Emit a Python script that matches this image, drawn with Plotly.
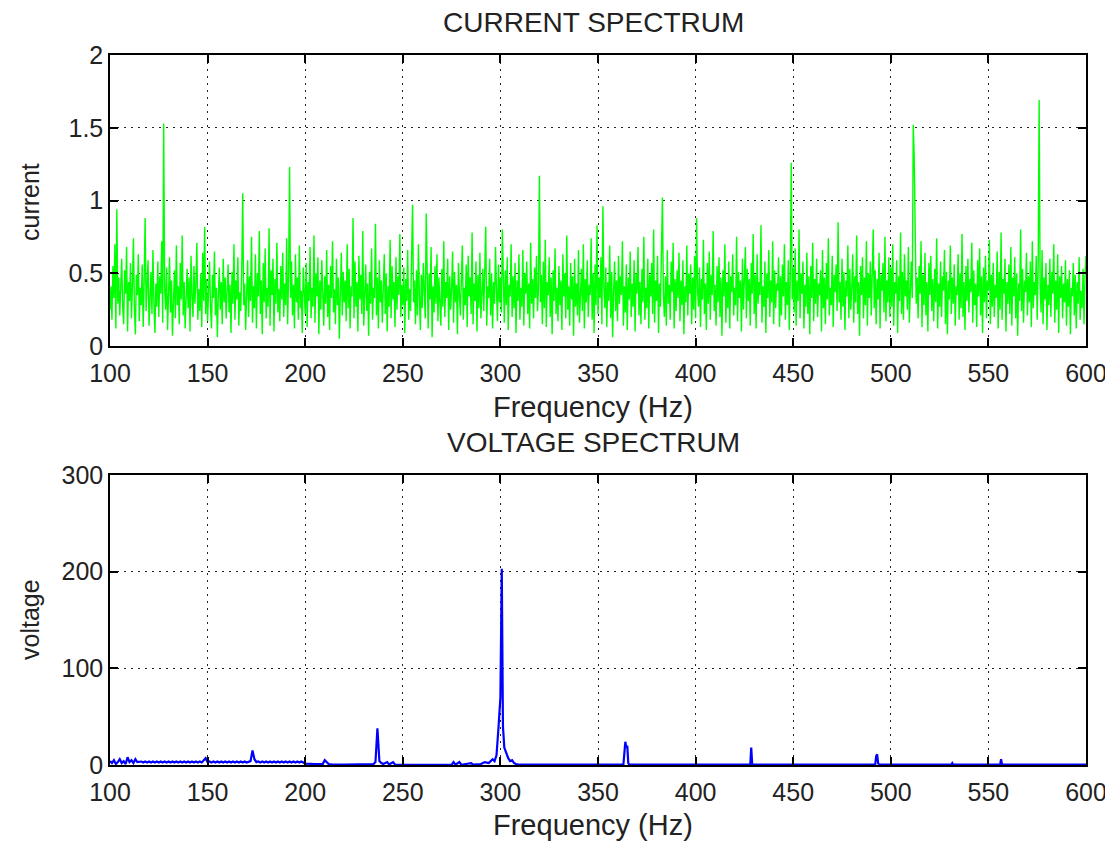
import plotly.graph_objects as go

# ---------------- data ----------------
current_freq_start = 100.0   # Hz
current_freq_step = 0.5      # Hz per bin
current_vals = [
    0.25,0.41,0.18,0.55,0.33,0.70,0.12,0.94,0.29,0.47,0.21,0.38,0.60,0.27,0.15,0.52,0.36,0.68,0.10,0.44,
    0.31,0.57,0.19,0.42,0.74,0.26,0.08,0.49,0.35,0.63,0.17,0.40,0.28,0.56,0.13,0.45,0.88,0.24,0.37,0.59,
    0.14,0.33,0.51,0.22,0.66,0.30,0.09,0.43,0.27,0.58,0.20,0.48,0.36,0.72,0.16,1.53,0.39,0.25,0.54,0.11,
    0.34,0.61,0.23,0.45,0.07,0.38,0.52,0.19,0.69,0.28,0.41,0.15,0.57,0.32,0.76,0.21,0.44,0.12,0.36,0.53,
    0.26,0.47,0.10,0.62,0.35,0.20,0.55,0.29,0.43,0.71,0.18,0.39,0.24,0.50,0.13,0.64,0.31,0.82,0.22,0.46,
    0.17,0.37,0.58,0.27,0.12,0.49,0.33,0.65,0.21,0.40,0.06,0.35,0.54,0.25,0.44,0.15,0.60,0.30,0.47,0.19,
    0.38,0.56,0.23,0.42,0.09,0.51,0.29,0.70,0.18,0.45,0.32,0.61,0.14,0.37,0.24,0.53,1.05,0.28,0.43,0.11,
    0.36,0.59,0.20,0.48,0.31,0.75,0.16,0.41,0.26,0.63,0.12,0.50,0.34,0.79,0.22,0.45,0.08,0.57,0.30,0.67,
    0.19,0.40,0.27,0.81,0.14,0.52,0.35,0.60,0.10,0.46,0.29,0.71,0.23,0.39,0.17,0.55,0.32,0.64,0.20,0.43,
    0.28,0.74,0.15,0.49,1.23,0.33,0.58,0.21,0.42,0.12,0.63,0.30,0.47,0.18,0.69,0.26,0.38,0.09,0.54,0.35,
    0.22,0.57,0.13,0.44,0.31,0.68,0.19,0.40,0.27,0.76,0.16,0.50,0.34,0.61,0.08,0.45,0.25,0.59,0.37,0.14,
    0.48,0.29,0.66,0.20,0.42,0.11,0.55,0.33,0.72,0.23,0.39,0.15,0.60,0.28,0.47,0.05,0.36,0.64,0.21,0.51,
    0.30,0.45,0.17,0.70,0.26,0.53,0.12,0.41,0.34,0.88,0.19,0.58,0.27,0.44,0.10,0.62,0.32,0.49,0.22,0.79,
    0.14,0.38,0.56,0.24,0.43,0.07,0.51,0.29,0.67,0.18,0.40,0.33,0.84,0.21,0.47,0.12,0.59,0.30,0.45,0.16,
    0.36,0.63,0.22,0.50,0.10,0.41,0.27,0.73,0.19,0.55,0.32,0.44,0.13,0.61,0.25,0.48,0.35,0.77,0.20,0.42,
    0.28,0.54,0.09,0.46,0.31,0.66,0.18,0.39,0.24,0.59,0.97,0.30,0.45,0.15,0.52,0.21,0.70,0.34,0.11,0.49,
    0.26,0.57,0.37,0.19,0.91,0.43,0.12,0.50,0.32,0.68,0.06,0.41,0.23,0.55,0.29,0.63,0.17,0.47,0.35,0.14,
    0.53,0.27,0.72,0.20,0.44,0.33,0.60,0.11,0.48,0.25,0.39,0.65,0.16,0.51,0.30,0.42,0.08,0.57,0.36,0.21,
    0.46,0.69,0.18,0.40,0.28,0.56,0.13,0.62,0.34,0.47,0.22,0.78,0.15,0.43,0.31,0.58,0.10,0.49,0.26,0.64,
    0.19,0.37,0.53,0.24,0.45,0.82,0.14,0.41,0.33,0.60,0.21,0.50,0.12,0.44,0.29,0.68,0.38,0.17,0.56,0.30,
    0.47,0.23,0.80,0.35,0.16,0.52,0.28,0.61,0.11,0.42,0.34,0.70,0.20,0.48,0.26,0.57,0.09,0.45,0.31,0.63,
    0.18,0.40,0.27,0.66,0.14,0.50,0.36,0.58,0.22,0.43,0.12,0.71,0.29,0.46,0.19,0.54,0.33,0.62,0.24,0.39,
    1.17,0.30,0.49,0.15,0.58,0.26,0.73,0.13,0.44,0.35,0.61,0.20,0.47,0.08,0.52,0.31,0.67,0.22,0.40,0.17,
    0.55,0.28,0.45,0.11,0.63,0.34,0.50,0.19,0.76,0.25,0.41,0.14,0.57,0.32,0.48,0.07,0.60,0.27,0.43,0.21,
    0.66,0.16,0.38,0.53,0.24,0.70,0.12,0.46,0.30,0.59,0.20,0.42,0.35,0.74,0.18,0.50,0.09,0.56,0.28,0.83,
    0.22,0.47,0.33,0.61,0.15,0.96,0.40,0.26,0.54,0.13,0.44,0.31,0.69,0.19,0.51,0.06,0.38,0.58,0.24,0.45,
    0.17,0.62,0.29,0.48,0.35,0.72,0.14,0.41,0.23,0.56,0.11,0.47,0.32,0.65,0.20,0.43,0.27,0.59,0.10,0.50,
    0.36,0.68,0.21,0.44,0.15,0.53,0.30,0.75,0.18,0.40,0.26,0.60,0.12,0.49,0.34,0.57,0.22,0.80,0.16,0.45,
    0.31,0.62,0.09,0.43,0.27,0.55,1.02,0.35,0.20,0.48,0.14,0.66,0.29,0.42,0.18,0.58,0.37,0.71,0.12,0.46,
    0.24,0.52,0.33,0.64,0.17,0.45,0.28,0.59,0.08,0.41,0.30,0.69,0.21,0.50,0.36,0.56,0.15,0.47,0.25,0.62,
    0.19,0.88,0.38,0.27,0.54,0.13,0.46,0.32,0.73,0.22,0.43,0.11,0.57,0.29,0.65,0.18,0.49,0.35,0.79,0.24,
    0.42,0.14,0.55,0.30,0.61,0.20,0.47,0.07,0.52,0.34,0.70,0.16,0.44,0.26,0.58,0.12,0.48,0.37,0.63,0.21,
    0.40,0.28,0.75,0.17,0.51,0.33,0.45,0.10,0.60,0.25,0.42,0.68,0.19,0.53,0.31,0.46,0.14,0.57,0.36,0.77,
    0.22,0.49,0.12,0.63,0.29,0.44,0.35,0.83,0.16,0.41,0.27,0.58,0.09,0.50,0.33,0.66,0.20,0.45,0.30,0.72,
    0.15,0.52,0.26,0.43,0.38,0.61,0.13,0.48,0.21,0.56,0.34,0.70,0.18,0.44,0.28,0.59,0.11,0.47,1.26,0.32,
    0.54,0.23,0.67,0.14,0.45,0.31,0.80,0.19,0.50,0.36,0.58,0.12,0.42,0.27,0.64,0.22,0.48,0.08,0.55,0.33,
    0.71,0.17,0.46,0.29,0.60,0.20,0.43,0.35,0.52,0.10,0.66,0.26,0.47,0.15,0.57,0.32,0.74,0.21,0.40,0.28,
    0.62,0.13,0.49,0.37,0.56,0.24,0.85,0.30,0.44,0.18,0.60,0.27,0.51,0.11,0.45,0.34,0.69,0.19,0.53,0.25,
    0.41,0.63,0.16,0.48,0.30,0.76,0.22,0.44,0.07,0.55,0.35,0.61,0.19,0.47,0.28,0.72,0.14,0.50,0.33,0.58,
    0.21,0.43,0.80,0.26,0.52,0.15,0.46,0.32,0.64,0.12,0.49,0.38,0.57,0.23,0.75,0.17,0.45,0.30,0.61,0.20,
    0.54,0.27,0.70,0.14,0.44,0.36,0.59,0.09,0.48,0.31,0.78,0.22,0.51,0.18,0.63,0.34,0.45,0.25,0.68,0.16,
    0.42,0.58,0.33,1.52,1.30,0.61,0.29,0.47,0.19,0.55,0.36,0.72,0.13,0.49,0.28,0.64,0.21,0.44,0.10,0.57,
    0.35,0.62,0.24,0.46,0.17,0.53,0.30,0.74,0.12,0.43,0.27,0.58,0.20,0.48,0.38,0.66,0.15,0.51,0.08,0.45,
    0.32,0.69,0.22,0.47,0.29,0.56,0.14,0.41,0.35,0.63,0.18,0.50,0.26,0.77,0.20,0.44,0.11,0.55,0.31,0.60,
    0.23,0.46,0.37,0.71,0.16,0.52,0.28,0.43,0.13,0.59,0.34,0.67,0.21,0.48,0.09,0.54,0.30,0.62,0.19,0.45,
    0.38,0.73,0.15,0.49,0.27,0.57,0.20,0.42,0.33,0.65,0.12,0.51,0.25,0.78,0.18,0.46,0.36,0.60,0.10,0.44,
    0.29,0.56,0.22,0.68,0.14,0.47,0.34,0.61,0.19,0.50,0.07,0.43,0.31,0.80,0.24,0.53,0.16,0.45,0.37,0.64,
    0.21,0.48,0.30,0.58,0.13,0.72,0.26,0.44,0.35,0.62,0.18,0.55,1.69,0.40,0.23,0.66,0.15,0.47,0.32,0.57,
    0.11,0.42,0.28,0.60,0.20,0.51,0.36,0.70,0.16,0.45,0.25,0.63,0.09,0.48,0.33,0.55,0.19,0.43,0.30,0.59,
    0.14,0.46,0.27,0.52,0.08,0.40,0.34,0.57,0.21,0.49,0.12,0.44,0.29,0.61,0.18,0.38,0.26,0.53,0.15,0.47,
    0.62,
]
current_freq = [current_freq_start + current_freq_step * i for i in range(len(current_vals))]

voltage_freq = [
    100,101,102,103,104,105,106,107,108,109,110,111,112,113,114,115,
    116,117,118,119,120,121,122,123,124,125,126,127,128,129,130,131,
    132,133,134,135,136,137,138,139,140,141,142,143,144,145,146,147,
    148,149,150,
    151,152,153,154,155,156,157,158,159,160,161,162,163,164,165,166,167,168,169,170,171,
    172,173,174,175,
    176,177,178,179,180,181,182,183,184,185,186,187,188,189,190,191,192,193,194,195,196,197,198,199,
    200,205,209,210,211,212,214,220,235,236,237,238,239,240,242,243,245,246,250,
    275,276,277,279,280,285,286,290,292,294,296,297,298,299,300,300.7,301.3,
    302,303,304,305,306,307,308,310,330,363,364,364.5,365,365.5,366,
    428,428.5,429,492,492.5,493,493.5,494,531,531.5,532,556,556.5,557,600,
]
voltage_vals = [
    4,2,5,1,3,6,2,4,1,8,3,5,2,6,3,3.5,
    3.6,2.6,3.6,2.6,3.6,2.6,3.6,2.6,3.6,2.6,3.6,2.6,3.6,2.6,3.6,2.6,
    3.6,2.6,3.6,2.6,3.6,2.6,3.6,2.6,3.6,2.6,3.6,2.6,3.6,2.6,3.6,2.6,
    5,7,3,
    3.6,2.6,3.6,2.6,3.6,2.6,3.6,2.6,3.6,2.6,3.6,2.6,3.6,2.6,3.6,2.6,3.6,2.6,3.6,2.6,3.6,
    4,15,6,3,
    3.6,2.6,3.6,2.6,3.6,2.6,3.6,2.6,3.6,2.6,3.6,2.6,3.6,2.6,3.6,2.6,3.6,2.6,3.6,2.6,3.6,2.6,3.6,2.6,
    1.5,1,1,5,3,1,0.5,0.3,1,3,38,4,2,1,3,0.5,3,0.5,0.2,
    0.2,3,0.3,3,0.3,2,0.3,1,3,2,6,4,10,38,70,203,40,
    18,12,7,4,5,2,1,0.3,0.2,0.3,24,18,20,2,0.3,
    0.3,18,0.3,0.3,9,11,2,0.3,0.3,2,0.3,0.3,6,0.3,0.3,
]

x_ticks = [100, 150, 200, 250, 300, 350, 400, 450, 500, 550, 600]
cur_ticks = [0, 0.5, 1, 1.5, 2]
cur_tick_text = ["0", "0.5", "1", "1.5", "2"]
volt_ticks = [0, 100, 200, 300]

# ---------------- figure ----------------
FONT = "Liberation Sans, Arial, sans-serif"
OFF = 8                      # page body margin
W, H = 1113 - OFF, 841 - OFF

def fx(p):  # page px -> paper x
    return (p - OFF) / W

def fy(p):  # page px -> paper y
    return 1 - (p - OFF) / H

fig = go.Figure()
fig.add_trace(go.Scatter(x=current_freq, y=current_vals, mode="lines",
                         line=dict(color="#00ff00", width=1.4),
                         xaxis="x", yaxis="y", showlegend=False))
fig.add_trace(go.Scatter(x=voltage_freq, y=voltage_vals, mode="lines",
                         line=dict(color="#0000ff", width=2.2),
                         xaxis="x2", yaxis="y2", showlegend=False))

xd = [fx(110), fx(1086)]
top_dom = [fy(346), fy(55)]
bot_dom = [fy(765), fy(475)]

axis_common = dict(
    showline=True, linecolor="black", linewidth=1.5, mirror="ticks",
    ticks="inside", ticklen=8, tickwidth=1.5, tickcolor="black",
    showgrid=True, gridcolor="#222222", gridwidth=1.2, griddash="2px,5px",
    zeroline=False, automargin=False,
    tickfont=dict(family=FONT, size=25, color="#222222"),
)

fig.update_layout(
    width=W, height=H,
    margin=dict(l=0, r=0, t=0, b=0),
    paper_bgcolor="white", plot_bgcolor="white",
    xaxis=dict(domain=xd, anchor="y", range=[100, 600], tickvals=x_ticks,
               ticklabelstandoff=4, **axis_common),
    yaxis=dict(domain=top_dom, anchor="x", range=[0, 2], tickvals=cur_ticks,
               ticktext=cur_tick_text, **axis_common),
    xaxis2=dict(domain=xd, anchor="y2", range=[100, 600], tickvals=x_ticks,
                ticklabelstandoff=4, **axis_common),
    yaxis2=dict(domain=bot_dom, anchor="x2", range=[0, 300], tickvals=volt_ticks, **axis_common),
)

def ann(text, x, y, size=26, angle=0):
    fig.add_annotation(text=text, x=fx(x), y=fy(y), xref="paper", yref="paper",
                       showarrow=False, textangle=angle, xanchor="center", yanchor="middle",
                       font=dict(family=FONT, size=size, color="#222222"))

ann("CURRENT SPECTRUM", 593, 22, size=28)
ann("Frequency (Hz)", 593, 407, size=29)
ann("VOLTAGE SPECTRUM", 593, 442, size=28)
ann("Frequency (Hz)", 593, 825, size=29)
ann("current", 30, 202, size=25, angle=-90)
ann("voltage", 30, 620, size=25, angle=-90)

fig.write_html("out.html")
